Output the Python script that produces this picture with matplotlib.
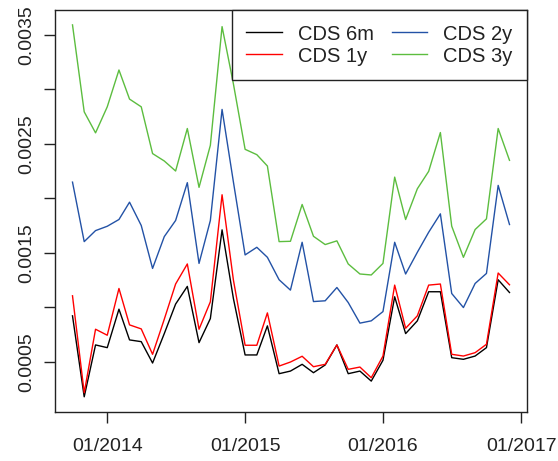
import datetime as dt
import numpy as np
import matplotlib
matplotlib.use("Agg")
import matplotlib.pyplot as plt
import matplotlib.dates as mdates

plt.rcParams['font.family'] = ['Liberation Sans', 'DejaVu Sans']

# Monthly CDS spreads, Oct 2013 - Dec 2016
dates = [dt.date(2013 + (9 + i) // 12, (9 + i) % 12 + 1, 1) for i in range(39)]

cds_6m = [0.000921, 0.000178, 0.000654, 0.000629, 0.000982, 0.000700, 0.000684, 0.000488,
          0.000758, 0.001029, 0.001191, 0.000675, 0.000896, 0.001710, 0.001080, 0.000562,
          0.000562, 0.000829, 0.000390, 0.000414, 0.000476, 0.000399, 0.000470, 0.000654,
          0.000390, 0.000414, 0.000322, 0.000513, 0.001096, 0.000758, 0.000875, 0.001142,
          0.001142, 0.000537, 0.000522, 0.000552, 0.000629, 0.001252, 0.001135]
cds_1y = [0.001105, 0.000215, 0.000798, 0.000743, 0.001172, 0.000838, 0.000801, 0.000568,
          0.000890, 0.001213, 0.001397, 0.000798, 0.001050, 0.002032, 0.001250, 0.000651,
          0.000651, 0.000948, 0.000460, 0.000497, 0.000550, 0.000454, 0.000476, 0.000654,
          0.000430, 0.000451, 0.000353, 0.000552, 0.001203, 0.000807, 0.000921, 0.001203,
          0.001213, 0.000568, 0.000552, 0.000583, 0.000660, 0.001314, 0.001206]
cds_2y = [0.002148, 0.001602, 0.001703, 0.001743, 0.001805, 0.001964, 0.001750, 0.001356,
          0.001648, 0.001796, 0.002143, 0.001402, 0.001796, 0.002815, 0.002150, 0.001480,
          0.001550, 0.001458, 0.001252, 0.001157, 0.001596, 0.001052, 0.001059, 0.001181,
          0.001043, 0.000854, 0.000875, 0.000960, 0.001596, 0.001305, 0.001504, 0.001688,
          0.001857, 0.001126, 0.000997, 0.001218, 0.001310, 0.002118, 0.001759]
cds_3y = [0.003591, 0.002793, 0.002600, 0.002839, 0.003177, 0.002910, 0.002839, 0.002410,
          0.002342, 0.002250, 0.002640, 0.002100, 0.002486, 0.003575, 0.003050, 0.002449,
          0.002400, 0.002296, 0.001602, 0.001605, 0.001943, 0.001651, 0.001575, 0.001609,
          0.001397, 0.001305, 0.001296, 0.001402, 0.002194, 0.001805, 0.002087, 0.002247,
          0.002603, 0.001744, 0.001458, 0.001713, 0.001811, 0.002640, 0.002348]

series_labels = ["CDS 6m", "CDS 1y", "CDS 2y", "CDS 3y"]
series_colors = ["black", "#ff0000", "#2352a6", "#5cbd3f"]

ytick_values = [0.0005, 0.0010, 0.0015, 0.0020, 0.0025, 0.0030, 0.0035]
ytick_labels = ["0.0005", "", "0.0015", "", "0.0025", "", "0.0035"]
xtick_dates = [dt.date(2014, 1, 1), dt.date(2015, 1, 1), dt.date(2016, 1, 1), dt.date(2017, 1, 1)]
xtick_labels = ["01/2014", "01/2015", "01/2016", "01/2017"]

fig = plt.figure(figsize=(5.58, 4.61), dpi=100)
ax = fig.add_axes([0.0986, 0.107, 0.8458, 0.8713])

x = mdates.date2num(dates)
for vals, lab, col in zip([cds_6m, cds_1y, cds_2y, cds_3y], series_labels, series_colors):
    ax.plot(x, vals, color=col, lw=1.0, label=lab)

# axis ranges padded by 4% on each side
allv = np.concatenate([cds_6m, cds_1y, cds_2y, cds_3y])
lo, hi = allv.min(), allv.max()
pad = 0.04 * (hi - lo)
ax.set_ylim(lo - pad, hi + pad)
xpad = 0.04 * (x.max() - x.min())
ax.set_xlim(x.min() - xpad, x.max() + xpad)

ax.set_yticks(ytick_values)
ax.set_yticklabels(ytick_labels, rotation=90, va='center')
ax.set_xticks(mdates.date2num(xtick_dates))
ax.set_xticklabels(xtick_labels)
ax.tick_params(axis='both', direction='out', length=8, width=1.0, labelsize=14,
               colors='#222222')
ax.tick_params(axis='x', pad=11)
ax.tick_params(axis='y', pad=6)
for s in ax.spines.values():
    s.set_linewidth(1.0)
    s.set_color('#222222')

leg = ax.legend(ncol=2, loc='upper right', borderaxespad=0, fontsize=14.5,
                frameon=True, fancybox=False, framealpha=1, edgecolor='#222222',
                handlelength=1.75, handletextpad=0.8, columnspacing=0.9,
                labelspacing=0.15, borderpad=0.72)
leg.get_frame().set_linewidth(1.0)
for t in leg.get_texts():
    t.set_color('#222222')

fig.savefig("out.png", dpi=100)
